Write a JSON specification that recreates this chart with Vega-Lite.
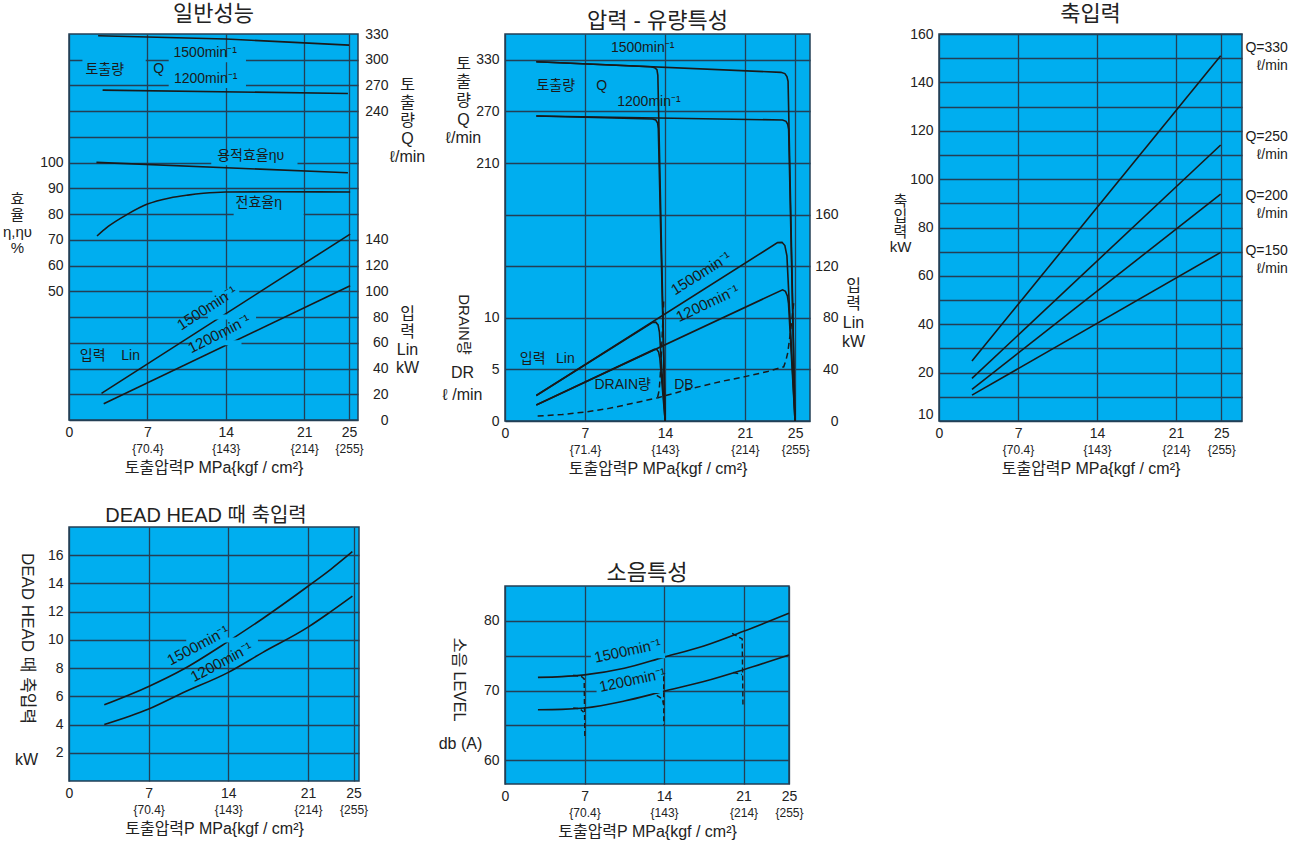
{
"$schema": "https://vega.github.io/schema/vega-lite/v6.json",
"padding": {"left": 1, "top": 2, "right": 5, "bottom": 5},
"config": {
 "font": "Liberation Sans, Noto Sans CJK KR",
 "view": {"fill": "#00AEEF", "stroke": "#233f55", "strokeWidth": 1.5},
 "axis": {"domain": false, "ticks": false, "grid": false, "labelFont": "Liberation Sans, Noto Sans CJK KR", "labelFontSize": 14, "labelColor": "#222222", "labelFlush": false, "labelOverlap": false, "titleFont": "Liberation Sans, Noto Sans CJK KR", "titleFontWeight": "normal", "titleColor": "#222222", "titleFontSize": 15, "gridColor": "#233f55", "gridOpacity": 1, "gridWidth": 1.3},
 "title": {"font": "Liberation Sans, Noto Sans CJK KR", "fontSize": 22, "fontWeight": "normal", "color": "#222222", "offset": 1},
 "text": {"font": "Liberation Sans, Noto Sans CJK KR", "fontSize": 14, "color": "#1a1a1a"}
},
"hconcat": [
 {"vconcat": [
  {
   "width": 289, "height": 386,
   "title": {"text": "일반성능"},
   "layer": [
    {
     "data": {"values": [
      {"s": "Q1500", "P": 2.6, "Q": 328}, {"s": "Q1500", "P": 14, "Q": 324.2}, {"s": "Q1500", "P": 25, "Q": 317},
      {"s": "Q1200", "P": 3.0, "Q": 264.6}, {"s": "Q1200", "P": 24.9, "Q": 260.7}
     ]},
     "mark": {"type": "line", "color": "#1a1a1a", "strokeWidth": 1.6},
     "encoding": {
      "x": {"field": "P", "type": "quantitative", "scale": {"domain": [0, 25.8]}, "axis": {"orient": "bottom", "values": [0, 7, 14, 21, 25], "grid": true, "labelPadding": 5, "title": null}},
      "y": {"field": "Q", "type": "quantitative", "scale": {"domain": [-120, 330]}, "axis": {"orient": "right", "values": [240, 270, 300, 330], "labelAlign": "right", "labelPadding": 30, "title": ["토", "출", "량", "Q", "ℓ/min"], "titleAngle": 0, "titleAlign": "center", "titleBaseline": "middle", "titleX": 49, "titleY": 50, "titleLineHeight": 18, "titleFontSize": 16}},
      "detail": {"field": "s"}
     }
    },
    {
     "data": {"values": [
      {"s": "ev", "P": 2.45, "E": 100.1}, {"s": "ev", "P": 24.9, "E": 96.1},
      {"s": "et", "P": 2.5, "E": 71.5}, {"s": "et", "P": 3.5, "E": 75.2}, {"s": "et", "P": 5.2, "E": 79.9}, {"s": "et", "P": 7, "E": 83.9}, {"s": "et", "P": 9, "E": 86.3}, {"s": "et", "P": 10.6, "E": 87.4}, {"s": "et", "P": 12, "E": 88.1}, {"s": "et", "P": 14, "E": 88.6}, {"s": "et", "P": 18, "E": 88.7}, {"s": "et", "P": 25.1, "E": 88.6}
     ]},
     "mark": {"type": "line", "color": "#1a1a1a", "strokeWidth": 1.6, "interpolate": "monotone"},
     "encoding": {
      "x": {"field": "P", "type": "quantitative", "scale": {"domain": [0, 25.8]}, "axis": {"orient": "bottom", "values": [7, 14, 21, 25], "labelExpr": "datum.value==7?'{70.4}':datum.value==14?'{143}':datum.value==21?'{214}':'{255}'", "labelFontSize": 12, "labelPadding": 23, "title": "토출압력P MPa{kgf / cm²}", "titleFontSize": 16, "titlePadding": 5}},
      "y": {"field": "E", "type": "quantitative", "scale": {"domain": [0, 150]}, "axis": {"orient": "left", "values": [50, 60, 70, 80, 90, 100], "labelPadding": 6, "title": ["효", "율", "η,ηυ", "%"], "titleAngle": 0, "titleAlign": "center", "titleBaseline": "middle", "titleX": -52, "titleY": 164, "titleLineHeight": 16.5}},
      "detail": {"field": "s"}
     }
    },
    {
     "data": {"values": [
      {"s": "L1500", "P": 2.9, "L": 20.7}, {"s": "L1500", "P": 25.1, "L": 144.5},
      {"s": "L1200", "P": 3.1, "L": 12.7}, {"s": "L1200", "P": 25.1, "L": 104.3}
     ]},
     "mark": {"type": "line", "color": "#1a1a1a", "strokeWidth": 1.6},
     "encoding": {
      "x": {"field": "P", "type": "quantitative", "scale": {"domain": [0, 25.8]}, "axis": null},
      "y": {"field": "L", "type": "quantitative", "scale": {"domain": [0, 300]}, "axis": {"orient": "right", "values": [0, 20, 40, 60, 80, 100, 120, 140, 160, 180, 200, 220, 240, 260, 280], "grid": true, "labelExpr": "datum.value<=140?datum.label:''", "labelAlign": "right", "labelPadding": 30, "title": ["입", "력", "Lin", "kW"], "titleAngle": 0, "titleAlign": "center", "titleBaseline": "middle", "titleX": 49, "titleY": 279, "titleLineHeight": 18, "titleFontSize": 16}},
      "detail": {"field": "s"}
     }
    },
    {
     "data": {"values": [
      {"a": 1.2, "b": 6.85, "g": 280}, {"a": 8.9, "b": 15.8, "g": 280}, {"a": 8.9, "b": 15.8, "g": 260}, {"a": 12.7, "b": 20.4, "g": 200}, {"a": 14.7, "b": 20.95, "g": 160}, {"a": 12.8, "b": 15.2, "g": 100}, {"a": 12.4, "b": 16.7, "g": 80}, {"a": 11.0, "b": 15.4, "g": 60}
     ]},
     "mark": {"type": "rule", "color": "#00AEEF", "strokeWidth": 5},
     "encoding": {
      "x": {"field": "a", "type": "quantitative", "scale": {"domain": [0, 25.8]}, "axis": null},
      "x2": {"field": "b"},
      "y": {"field": "g", "type": "quantitative", "scale": {"domain": [0, 300]}, "axis": null}
     }
    },
    {
     "data": {"values": [
      {"t": "토출량", "P": 3.19, "L": 271.9}, {"t": "Q", "P": 8.01, "L": 273}, {"t": "1500min⁻¹", "P": 12.16, "L": 284.9}, {"t": "1200min⁻¹", "P": 12.2, "L": 265.4}, {"t": "용적효율ηυ", "P": 16.22, "L": 205.4}, {"t": "전효율η", "P": 16.94, "L": 168.3}, {"t": "입력", "P": 2.12, "L": 50}, {"t": "Lin", "P": 5.5, "L": 50}
     ]},
     "mark": {"type": "text", "align": "center", "baseline": "middle", "fontSize": 14},
     "encoding": {
      "x": {"field": "P", "type": "quantitative", "scale": {"domain": [0, 25.8]}, "axis": null},
      "y": {"field": "L", "type": "quantitative", "scale": {"domain": [0, 300]}, "axis": null},
      "text": {"field": "t"}
     }
    },
    {
     "data": {"values": [{"t": "1500min⁻¹", "P": 12.3, "L": 87}]},
     "mark": {"type": "text", "align": "center", "baseline": "middle", "fontSize": 15, "angle": -33},
     "encoding": {
      "x": {"field": "P", "type": "quantitative", "scale": {"domain": [0, 25.8]}, "axis": null},
      "y": {"field": "L", "type": "quantitative", "scale": {"domain": [0, 300]}, "axis": null},
      "text": {"field": "t"}
     }
    },
    {
     "data": {"values": [{"t": "1200min⁻¹", "P": 13.4, "L": 67}]},
     "mark": {"type": "text", "align": "center", "baseline": "middle", "fontSize": 15, "angle": -27},
     "encoding": {
      "x": {"field": "P", "type": "quantitative", "scale": {"domain": [0, 25.8]}, "axis": null},
      "y": {"field": "L", "type": "quantitative", "scale": {"domain": [0, 300]}, "axis": null},
      "text": {"field": "t"}
     }
    }
   ],
   "resolve": {"scale": {"y": "independent"}, "axis": {"x": "independent", "y": "independent"}}
  },
  {
   "width": 290, "height": 254,
   "title": {"text": "DEAD HEAD 때 축입력", "dx": -8, "fontSize": 20},
   "layer": [
    {
     "data": {"values": [
      {"s": "1500", "P": 3.1, "K": 5.4}, {"s": "1500", "P": 7, "K": 6.7}, {"s": "1500", "P": 10, "K": 7.9}, {"s": "1500", "P": 14, "K": 9.9}, {"s": "1500", "P": 17, "K": 11.5}, {"s": "1500", "P": 21, "K": 13.8}, {"s": "1500", "P": 23, "K": 15.0}, {"s": "1500", "P": 24.9, "K": 16.25},
      {"s": "1200", "P": 3.1, "K": 4.0}, {"s": "1200", "P": 7, "K": 5.1}, {"s": "1200", "P": 10, "K": 6.25}, {"s": "1200", "P": 14, "K": 7.7}, {"s": "1200", "P": 17, "K": 9.1}, {"s": "1200", "P": 21, "K": 10.9}, {"s": "1200", "P": 23, "K": 12.0}, {"s": "1200", "P": 24.9, "K": 13.1}
     ]},
     "mark": {"type": "line", "color": "#1a1a1a", "strokeWidth": 1.6, "interpolate": "monotone"},
     "encoding": {
      "x": {"field": "P", "type": "quantitative", "scale": {"domain": [0, 25.48]}, "axis": {"orient": "bottom", "values": [0, 7, 14, 21, 25], "grid": true, "labelPadding": 5, "title": null}},
      "y": {"field": "K", "type": "quantitative", "scale": {"domain": [0, 18]}, "axis": {"orient": "left", "values": [2, 4, 6, 8, 10, 12, 14, 16], "grid": true, "labelPadding": 6, "title": "DEAD HEAD 때 축입력", "titleFontSize": 17, "titleAngle": 90, "titleAlign": "center", "titleBaseline": "middle", "titleX": -43, "titleY": 111}},
      "detail": {"field": "s"}
     }
    },
    {
     "data": {"values": [{"a": 10.3, "b": 16.6, "g": 10}]},
     "mark": {"type": "rule", "color": "#00AEEF", "strokeWidth": 5},
     "encoding": {
      "x": {"field": "a", "type": "quantitative", "scale": {"domain": [0, 25.48]}, "axis": null},
      "x2": {"field": "b"},
      "y": {"field": "g", "type": "quantitative", "scale": {"domain": [0, 18]}, "axis": null}
     }
    },
    {
     "data": {"values": [{"t": "1500min⁻¹", "P": 11.34, "K": 9.61}]},
     "mark": {"type": "text", "align": "center", "baseline": "middle", "fontSize": 15, "angle": -28},
     "encoding": {
      "x": {"field": "P", "type": "quantitative", "scale": {"domain": [0, 25.48]}, "axis": {"orient": "bottom", "values": [7, 14, 21, 25], "labelExpr": "datum.value==7?'{70.4}':datum.value==14?'{143}':datum.value==21?'{214}':'{255}'", "labelFontSize": 12, "labelPadding": 23, "title": "토출압력P MPa{kgf / cm²}", "titleFontSize": 16, "titlePadding": 5}},
      "y": {"field": "K", "type": "quantitative", "scale": {"domain": [0, 18]}, "axis": {"orient": "left", "labels": false, "title": "kW", "titleAngle": 0, "titleAlign": "center", "titleBaseline": "middle", "titleX": -43, "titleY": 232, "titleFontSize": 16}},
      "text": {"field": "t"}
     }
    },
    {
     "data": {"values": [{"t": "1200min⁻¹", "P": 13.39, "K": 8.43}]},
     "mark": {"type": "text", "align": "center", "baseline": "middle", "fontSize": 15, "angle": -28},
     "encoding": {
      "x": {"field": "P", "type": "quantitative", "scale": {"domain": [0, 25.48]}, "axis": null},
      "y": {"field": "K", "type": "quantitative", "scale": {"domain": [0, 18]}, "axis": null},
      "text": {"field": "t"}
     }
    }
   ],
   "resolve": {"axis": {"x": "independent", "y": "independent"}}
  }
 ], "spacing": 107, "bounds": "flush"},
 {"hconcat": [
  {"vconcat": [
   {
    "width": 305, "height": 387,
    "title": {"text": "압력 - 유량특성"},
    "layer": [
     {
      "data": {"values": [
       {"s": "Q1500a", "P": 2.74, "Q": 327.7}, {"s": "Q1500a", "P": 12.77, "Q": 321.9}, {"s": "Q1500a", "P": 13.1, "Q": 320.8}, {"s": "Q1500a", "P": 13.3, "Q": 318.5}, {"s": "Q1500a", "P": 13.38, "Q": 312}, {"s": "Q1500a", "P": 14.02, "Q": -90},
       {"s": "Q1200a", "P": 2.74, "Q": 264.7}, {"s": "Q1200a", "P": 12.92, "Q": 261.2}, {"s": "Q1200a", "P": 13.2, "Q": 260}, {"s": "Q1200a", "P": 13.36, "Q": 256.5}, {"s": "Q1200a", "P": 13.42, "Q": 250}, {"s": "Q1200a", "P": 14.02, "Q": -90},
       {"s": "Q1500b", "P": 2.74, "Q": 327.7}, {"s": "Q1500b", "P": 24.15, "Q": 315.4}, {"s": "Q1500b", "P": 24.5, "Q": 314}, {"s": "Q1500b", "P": 24.68, "Q": 310.5}, {"s": "Q1500b", "P": 24.78, "Q": 305}, {"s": "Q1500b", "P": 25.39, "Q": -90},
       {"s": "Q1200b", "P": 2.74, "Q": 264.7}, {"s": "Q1200b", "P": 24.3, "Q": 260}, {"s": "Q1200b", "P": 24.6, "Q": 258.5}, {"s": "Q1200b", "P": 24.75, "Q": 255}, {"s": "Q1200b", "P": 24.83, "Q": 249}, {"s": "Q1200b", "P": 25.39, "Q": -90}
      ]},
      "mark": {"type": "line", "color": "#1a1a1a", "strokeWidth": 1.6},
      "encoding": {
       "x": {"field": "P", "type": "quantitative", "scale": {"domain": [0, 26.7]}, "axis": {"orient": "bottom", "values": [0, 7, 14, 21, 25.4], "labelExpr": "datum.value>25?'25':datum.label", "grid": true, "labelPadding": 5, "title": null}},
       "y": {"field": "Q", "type": "quantitative", "scale": {"domain": [-90, 360]}, "axis": {"orient": "left", "values": [210, 270, 330], "labelPadding": 6, "title": ["토", "출", "량", "Q", "ℓ/min"], "titleAngle": 0, "titleAlign": "center", "titleBaseline": "middle", "titleX": -42, "titleY": 29, "titleLineHeight": 18.7, "titleFontSize": 16}},
       "detail": {"field": "s"}
      }
     },
     {
      "data": {"values": [
       {"s": "DRb", "P": 2.86, "D": 0.48}, {"s": "DRb", "P": 5, "D": 0.62}, {"s": "DRb", "P": 7, "D": 0.87}, {"s": "DRb", "P": 9, "D": 1.2}, {"s": "DRb", "P": 11, "D": 1.67}, {"s": "DRb", "P": 13.4, "D": 2.26}, {"s": "DRb", "P": 16.3, "D": 3.14}, {"s": "DRb", "P": 19, "D": 3.85}, {"s": "DRb", "P": 21, "D": 4.3}, {"s": "DRb", "P": 23, "D": 4.8}, {"s": "DRb", "P": 24.4, "D": 5.25}, {"s": "DRb", "P": 24.6, "D": 5.9}, {"s": "DRb", "P": 24.75, "D": 6.6}, {"s": "DRb", "P": 25.0, "D": 8.7}, {"s": "DRb", "P": 25.3, "D": 11.7},
       {"s": "DRa", "P": 13.36, "D": 2.3}, {"s": "DRa", "P": 13.5, "D": 3.0}, {"s": "DRa", "P": 13.6, "D": 4.6}, {"s": "DRa", "P": 13.75, "D": 8.0}, {"s": "DRa", "P": 13.9, "D": 11.8}
      ]},
      "mark": {"type": "line", "color": "#1a1a1a", "strokeWidth": 1.5, "strokeDash": [6, 4]},
      "encoding": {
       "x": {"field": "P", "type": "quantitative", "scale": {"domain": [0, 26.7]}, "axis": {"orient": "bottom", "values": [7, 14, 21, 25.4], "labelExpr": "datum.value==7?'{71.4}':datum.value==14?'{143}':datum.value==21?'{214}':'{255}'", "labelFontSize": 12, "labelPadding": 23, "title": "토출압력P MPa{kgf / cm²}", "titleFontSize": 16, "titlePadding": 5}},
       "y": {"field": "D", "type": "quantitative", "scale": {"domain": [0, 37.5]}, "axis": {"orient": "left", "values": [0, 5, 10], "labelPadding": 6, "title": "DRAIN량", "titleAngle": 90, "titleAlign": "center", "titleBaseline": "middle", "titleX": -42, "titleY": 290, "titleFontSize": 15}},
       "detail": {"field": "s"}
      }
     },
     {
      "data": {"values": [
       {"s": "L1500a", "P": 2.74, "L": 19.8}, {"s": "L1500a", "P": 12.9, "L": 76.3}, {"s": "L1500a", "P": 13.2, "L": 76.6}, {"s": "L1500a", "P": 13.4, "L": 74.5}, {"s": "L1500a", "P": 13.52, "L": 69}, {"s": "L1500a", "P": 14.02, "L": 0},
       {"s": "L1200a", "P": 2.74, "L": 12.4}, {"s": "L1200a", "P": 13.07, "L": 55.5}, {"s": "L1200a", "P": 13.3, "L": 55.4}, {"s": "L1200a", "P": 13.45, "L": 53.5}, {"s": "L1200a", "P": 13.55, "L": 49}, {"s": "L1200a", "P": 14.02, "L": 0},
       {"s": "L1500b", "P": 2.74, "L": 19.8}, {"s": "L1500b", "P": 23.86, "L": 138.3}, {"s": "L1500b", "P": 24.25, "L": 138.5}, {"s": "L1500b", "P": 24.5, "L": 136}, {"s": "L1500b", "P": 24.68, "L": 128}, {"s": "L1500b", "P": 25.39, "L": 0},
       {"s": "L1200b", "P": 2.74, "L": 12.4}, {"s": "L1200b", "P": 24.3, "L": 101.7}, {"s": "L1200b", "P": 24.55, "L": 100.5}, {"s": "L1200b", "P": 24.72, "L": 97}, {"s": "L1200b", "P": 24.82, "L": 91}, {"s": "L1200b", "P": 25.39, "L": 0}
      ]},
      "mark": {"type": "line", "color": "#1a1a1a", "strokeWidth": 1.6},
      "encoding": {
       "x": {"field": "P", "type": "quantitative", "scale": {"domain": [0, 26.7]}, "axis": null},
       "y": {"field": "L", "type": "quantitative", "scale": {"domain": [0, 300]}, "axis": {"orient": "right", "values": [0, 40, 80, 120, 160, 200, 240, 280], "grid": true, "labelExpr": "datum.value<=160?datum.label:''", "labelAlign": "right", "labelPadding": 28, "title": ["입", "력", "Lin", "kW"], "titleAngle": 0, "titleAlign": "center", "titleBaseline": "middle", "titleX": 43, "titleY": 251, "titleLineHeight": 18.9, "titleFontSize": 16}},
       "detail": {"field": "s"}
      }
     },
     {
      "data": {"values": [
       {"t": "1500min⁻¹", "P": 12.05, "L": 288.9}, {"t": "토출량", "P": 4.44, "L": 259.7}, {"t": "Q", "P": 8.46, "L": 259.7}, {"t": "1200min⁻¹", "P": 12.6, "L": 247.6}, {"t": "입력", "P": 2.42, "L": 47.8}, {"t": "Lin", "P": 5.29, "L": 47.8}, {"t": "DRAIN량", "P": 10.3, "L": 27.9}, {"t": "DB", "P": 15.66, "L": 27.9}
      ]},
      "mark": {"type": "text", "align": "center", "baseline": "middle", "fontSize": 14},
      "encoding": {
       "x": {"field": "P", "type": "quantitative", "scale": {"domain": [0, 26.7]}, "axis": null},
       "y": {"field": "L", "type": "quantitative", "scale": {"domain": [0, 300]}, "axis": {"orient": "left", "labels": false, "title": ["DR", "ℓ /min"], "titleAngle": 0, "titleAlign": "center", "titleBaseline": "middle", "titleX": -43, "titleY": 338, "titleLineHeight": 22, "titleFontSize": 16}},
       "text": {"field": "t"}
      }
     },
     {
      "data": {"values": [{"t": "1500min⁻¹", "P": 17.15, "L": 114.5}]},
      "mark": {"type": "text", "align": "center", "baseline": "middle", "fontSize": 15, "angle": -32},
      "encoding": {
       "x": {"field": "P", "type": "quantitative", "scale": {"domain": [0, 26.7]}, "axis": null},
       "y": {"field": "L", "type": "quantitative", "scale": {"domain": [0, 300]}, "axis": null},
       "text": {"field": "t"}
      }
     },
     {
      "data": {"values": [{"t": "1200min⁻¹", "P": 17.73, "L": 91.2}]},
      "mark": {"type": "text", "align": "center", "baseline": "middle", "fontSize": 15, "angle": -25},
      "encoding": {
       "x": {"field": "P", "type": "quantitative", "scale": {"domain": [0, 26.7]}, "axis": null},
       "y": {"field": "L", "type": "quantitative", "scale": {"domain": [0, 300]}, "axis": null},
       "text": {"field": "t"}
      }
     }
    ],
    "resolve": {"scale": {"y": "independent"}, "axis": {"x": "independent", "y": "independent"}}
   },
   {
    "width": 284, "height": 198,
    "title": {"text": "소음특성"},
    "layer": [
     {
      "data": {"values": [
       {"s": "1500", "P": 2.9, "N": 71.9}, {"s": "1500", "P": 5, "N": 72.0}, {"s": "1500", "P": 7, "N": 72.25}, {"s": "1500", "P": 10.5, "N": 73.2}, {"s": "1500", "P": 14, "N": 74.8}, {"s": "1500", "P": 17.5, "N": 76.4}, {"s": "1500", "P": 21, "N": 78.5}, {"s": "1500", "P": 25, "N": 81.1},
       {"s": "1200", "P": 2.9, "N": 67.25}, {"s": "1200", "P": 5, "N": 67.3}, {"s": "1200", "P": 7, "N": 67.5}, {"s": "1200", "P": 10.5, "N": 68.5}, {"s": "1200", "P": 14, "N": 69.9}, {"s": "1200", "P": 17.5, "N": 71.3}, {"s": "1200", "P": 21, "N": 73.0}, {"s": "1200", "P": 25, "N": 75.1}
      ]},
      "mark": {"type": "line", "color": "#1a1a1a", "strokeWidth": 1.6, "interpolate": "monotone"},
      "encoding": {
       "x": {"field": "P", "type": "quantitative", "scale": {"domain": [0, 25]}, "axis": {"orient": "bottom", "values": [0, 7, 14, 21, 25], "grid": true, "labelPadding": 5, "title": null}},
       "y": {"field": "N", "type": "quantitative", "scale": {"domain": [56.6, 85]}, "axis": {"orient": "left", "values": [60, 65, 70, 75, 80], "grid": true, "labelExpr": "datum.value%10==0?datum.label:''", "labelPadding": 6, "title": "소음 LEVEL", "titleAngle": 90, "titleAlign": "center", "titleBaseline": "middle", "titleX": -47, "titleY": 93, "titleFontSize": 16}},
       "detail": {"field": "s"}
      }
     },
     {
      "data": {"values": [{"a": 7.56, "b": 14.1, "g": 75}, {"a": 8.06, "b": 13.9, "g": 70}]},
      "mark": {"type": "rule", "color": "#00AEEF", "strokeWidth": 5},
      "encoding": {
       "x": {"field": "a", "type": "quantitative", "scale": {"domain": [0, 25]}, "axis": null},
       "x2": {"field": "b"},
       "y": {"field": "g", "type": "quantitative", "scale": {"domain": [56.6, 85]}, "axis": null}
      }
     },
     {
      "data": {"values": [
       {"s": "d7", "P": 6.0, "N": 72.2}, {"s": "d7", "P": 6.75, "N": 72.0}, {"s": "d7", "P": 6.97, "N": 71.67}, {"s": "d7", "P": 7.03, "N": 63.1},
       {"s": "d7b", "P": 6.0, "N": 67.5}, {"s": "d7b", "P": 6.6, "N": 67.4}, {"s": "d7b", "P": 6.92, "N": 66.9},
       {"s": "d14", "P": 13.97, "N": 72.06}, {"s": "d14", "P": 13.98, "N": 65.0},
       {"s": "d14b", "P": 13.36, "N": 69.3}, {"s": "d14b", "P": 13.86, "N": 68.8}, {"s": "d14b", "P": 13.95, "N": 68.0},
       {"s": "d21", "P": 20.0, "N": 78.2}, {"s": "d21", "P": 20.88, "N": 77.4}, {"s": "d21", "P": 20.95, "N": 67.6},
       {"s": "d21b", "P": 20.1, "N": 72.6}, {"s": "d21b", "P": 20.85, "N": 72.3}
      ]},
      "mark": {"type": "line", "color": "#1a1a1a", "strokeWidth": 1.4, "strokeDash": [5, 3]},
      "encoding": {
       "x": {"field": "P", "type": "quantitative", "scale": {"domain": [0, 25]}, "axis": {"orient": "bottom", "values": [7, 14, 21, 25], "labelExpr": "datum.value==7?'{70.4}':datum.value==14?'{143}':datum.value==21?'{214}':'{255}'", "labelFontSize": 12, "labelPadding": 23, "title": "토출압력P MPa{kgf / cm²}", "titleFontSize": 16, "titlePadding": 5}},
       "y": {"field": "N", "type": "quantitative", "scale": {"domain": [56.6, 85]}, "axis": {"orient": "left", "labels": false, "title": "db (A)", "titleAngle": 0, "titleAlign": "center", "titleBaseline": "middle", "titleX": -45, "titleY": 157, "titleFontSize": 16}},
       "detail": {"field": "s"}
      }
     },
     {
      "data": {"values": [{"t": "1500min⁻¹", "P": 10.78, "N": 75.7}, {"t": "1200min⁻¹", "P": 11.22, "N": 71.5}]},
      "mark": {"type": "text", "align": "center", "baseline": "middle", "fontSize": 15, "angle": -12},
      "encoding": {
       "x": {"field": "P", "type": "quantitative", "scale": {"domain": [0, 25]}, "axis": null},
       "y": {"field": "N", "type": "quantitative", "scale": {"domain": [56.6, 85]}, "axis": null},
       "text": {"field": "t"}
      }
     }
    ],
    "resolve": {"axis": {"x": "independent", "y": "independent"}}
   }
  ], "spacing": 165, "bounds": "flush"},
  {
   "width": 303, "height": 387,
   "title": {"text": "축입력"},
   "layer": [
    {
     "data": {"values": [
      {"s": "Q330", "P": 2.92, "K": 24.8}, {"s": "Q330", "P": 24.95, "K": 151.0},
      {"s": "Q250", "P": 2.92, "K": 17.6}, {"s": "Q250", "P": 24.95, "K": 114.1},
      {"s": "Q200", "P": 2.92, "K": 13.1}, {"s": "Q200", "P": 24.95, "K": 93.8},
      {"s": "Q150", "P": 2.92, "K": 10.7}, {"s": "Q150", "P": 24.95, "K": 69.7}
     ]},
     "mark": {"type": "line", "color": "#1a1a1a", "strokeWidth": 1.6},
     "encoding": {
      "x": {"field": "P", "type": "quantitative", "scale": {"domain": [0, 26.84]}, "axis": {"orient": "bottom", "values": [0, 7, 14, 21, 25], "grid": true, "labelPadding": 5, "title": null}},
      "y": {"field": "K", "type": "quantitative", "scale": {"domain": [0, 160]}, "axis": {"orient": "left", "values": [0, 2.5, 10, 20, 30, 40, 50, 60, 70, 80, 90, 100, 110, 120, 130, 140, 150, 160], "grid": true, "gridOpacity": {"condition": {"test": "datum.value==2.5", "value": 0}, "value": 1}, "labelExpr": "datum.value==2.5?'10':(datum.value%20==0&&datum.value>0?datum.label:'')", "labelPadding": 6, "title": ["축", "입", "력", "kW"], "titleAngle": 0, "titleAlign": "center", "titleBaseline": "middle", "titleX": -39, "titleY": 166, "titleLineHeight": 15.5, "titleFontSize": 15}},
      "detail": {"field": "s"}
     }
    },
    {
     "data": {"values": [
      {"t": "Q=330\nℓ/min", "P": 30.9, "K": 150.3}, {"t": "Q=250\nℓ/min", "P": 30.9, "K": 113.7}, {"t": "Q=200\nℓ/min", "P": 30.9, "K": 89.1}, {"t": "Q=150\nℓ/min", "P": 30.9, "K": 66.5}
     ]},
     "mark": {"type": "text", "align": "right", "baseline": "middle", "fontSize": 14, "lineBreak": "\n", "lineHeight": 18, "dy": -9},
     "encoding": {
      "x": {"field": "P", "type": "quantitative", "scale": {"domain": [0, 26.84]}, "axis": {"orient": "bottom", "values": [7, 14, 21, 25], "labelExpr": "datum.value==7?'{70.4}':datum.value==14?'{143}':datum.value==21?'{214}':'{255}'", "labelFontSize": 12, "labelPadding": 23, "title": "토출압력P MPa{kgf / cm²}", "titleFontSize": 16, "titlePadding": 5}},
      "y": {"field": "K", "type": "quantitative", "scale": {"domain": [0, 160]}, "axis": null},
      "text": {"field": "t"}
     }
    }
   ],
   "resolve": {"axis": {"x": "independent", "y": "independent"}}
  }
 ], "spacing": 22}
],
"spacing": 11
}
